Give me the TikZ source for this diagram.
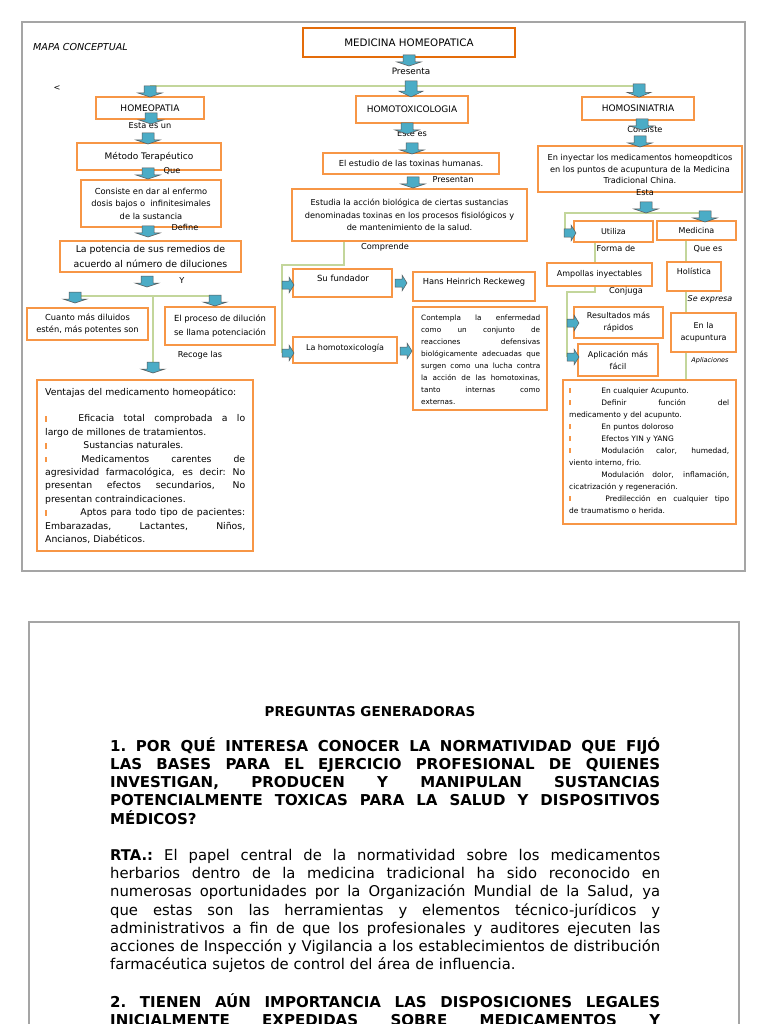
\documentclass[tikz,border=0pt]{standalone}
\usepackage{fontspec}
\setmainfont{DejaVu Sans}
\usetikzlibrary{calc}
\definecolor{bo}{RGB}{247,150,70}
\definecolor{to}{RGB}{228,108,10}
\definecolor{ab}{RGB}{75,172,198}
\definecolor{gl}{RGB}{195,214,155}
\definecolor{fr}{RGB}{165,165,165}
\newcommand\bul{\textcolor{bo}{\rule{2.2pt}{5.5pt}}}
\newcommand\jline[2]{\leavevmode\hbox to #1{\spaceskip=0.3em plus 1fil\relax\xspaceskip=0.3em plus 1fil\relax #2}}
\newcommand\fsz[2]{\fontsize{#1}{#2}\selectfont}
\tikzset{
 box/.style={draw=bo, fill=white, line width=1.1pt, inner sep=0pt, align=center, font=\fsz{8.2}{12}},
 lbl/.style={inner sep=0pt, font=\fsz{8.2}{9}},
 txt/.style={inner sep=0pt, anchor=base west, align=left},
 gline/.style={draw=gl, line width=1.1pt},
 darr/.pic={\filldraw[fill=ab, draw=black!65, line width=0.5pt] (-6,0) -- (6,0) -- (6,7) -- (12,7) -- (0,11) -- (-12,7) -- (-6,7) -- cycle;},
 rarr/.pic={\filldraw[fill=ab, draw=black!65, line width=0.5pt] (0,-4) -- (7,-4) -- (7,-8) -- (12,0) -- (7,8) -- (7,4) -- (0,4) -- cycle;},
}
\begin{document}
\begin{tikzpicture}[x=1pt,y=-1pt]
\useasboundingbox (0,0) rectangle (768,1024);
\fill[white] (0,0) rectangle (768,1024);
% frames
\draw[fr, line width=1.6pt] (22,22) rectangle (745,571);
\draw[fr, line width=1.6pt] (29,1024) -- (29,622) -- (739,622) -- (739,1024);

% ---------- coordinates for connectors
\coordinate (ta) at (150,86); \coordinate (tb) at (640,86);
\coordinate (la) at (75,296); \coordinate (lb) at (215,296);
\coordinate (lc) at (153,296); \coordinate (ld) at (153,362);
\coordinate (ma) at (344,241); \coordinate (mb) at (344,265);
\coordinate (mc) at (282,265); \coordinate (md) at (282,353);
\coordinate (ra) at (705,213); \coordinate (rb) at (565,213); \coordinate (rc) at (565,233);
\coordinate (rd) at (595,242); \coordinate (re) at (595,263);
\coordinate (rf) at (595,286); \coordinate (rg) at (595,292);
\coordinate (rh) at (567,292); \coordinate (ri) at (567,357);
\coordinate (v1) at (686,240); \coordinate (v2) at (686,262);
\coordinate (v3) at (686,291); \coordinate (v4) at (686,313);
\coordinate (v5) at (686,352); \coordinate (v6) at (686,380);

\draw[gline] (ta) -- (tb);
\draw[gline] (la) -- (lb);
\draw[gline] (lc) -- (ld);
\draw[gline] (ma) -- (mb) -- (mc) -- (md);
\draw[gline] (ra) -- (rb) -- (rc);
\draw[gline] (rd) -- (re);
\draw[gline] (rf) -- (rg) -- (rh) -- (ri);
\draw[gline] (v1) -- (v2);
\draw[gline] (v3) -- (v4);
\draw[gline] (v5) -- (v6);

% ---------- title
\node[box, draw=to, line width=2.4pt, minimum width=212pt, minimum height=29pt, font=\fsz{10.3}{12}] (mh) at (409,42.5) {MEDICINA HOMEOPATICA};
\node[lbl, anchor=west, font=\itshape\fsz{9.6}{11}] (mcp) at (33,47) {MAPA CONCEPTUAL};
\node[lbl, font=\fsz{8.8}{10}] (lpres) at (411,71) {Presenta};
\node[lbl] (llt) at (57,88) {<};

% ---------- level 1
\node[box, minimum width=108pt, minimum height=22pt, font=\fsz{9}{10}] (hp) at (150,108) {HOMEOPATIA};
\node[box, minimum width=112pt, minimum height=27pt, font=\fsz{9}{10}] (ht) at (412,109.5) {HOMOTOXICOLOGIA};
\node[box, minimum width=112pt, minimum height=23pt, font=\fsz{9}{10}] (hs) at (638,108.5) {HOMOSINIATRIA};

% ---------- left column
\node[box, minimum width=144pt, minimum height=27pt, font=\fsz{9}{10}] (mt) at (149,156.5) {Método Terapéutico};
\node[box, minimum width=140pt, minimum height=47pt, font=\fsz{8.3}{12.5}] (cs) at (151,203.5) {Consiste en dar al enfermo\\dosis bajos o \ infinitesimales\\de la sustancia};
\node[box, minimum width=181pt, minimum height=31pt, font=\fsz{9.4}{15.5}] (lp) at (150.5,256.5) {La potencia de sus remedios de\\acuerdo al número de diluciones};
\node[box, minimum width=121pt, minimum height=32pt, font=\fsz{8.3}{12}] (cm) at (87.5,324) {Cuanto más diluidos\\estén, más potentes son};
\node[box, minimum width=110pt, minimum height=38pt, font=\fsz{8.4}{13.5}] (ep) at (220,326) {El proceso de dilución\\se llama potenciación};
\node[box, minimum width=216pt, minimum height=171pt] (vt) at (145,465.5) {};
\node[txt, text width=200pt, font=\fsz{9.3}{13.4}] (vtt) at (45,395) {%
Ventajas del medicamento homeopático:\\[13.4pt]
\jline{200pt}{\bul\hspace{31pt}Eficacia total comprobada a lo}\\
largo de millones de tratamientos.\\
\bul\hspace{36pt}Sustancias naturales.\\
\jline{200pt}{\bul\hspace{34pt}Medicamentos carentes de}\\
\jline{200pt}{agresividad farmacológica, es decir: No}\\
\jline{200pt}{presentan efectos secundarios, No}\\
presentan contraindicaciones.\\
\jline{200pt}{\bul\hspace{33pt}Aptos para todo tipo de pacientes:}\\
\jline{200pt}{Embarazadas, Lactantes, Niños,}\\
Ancianos, Diabéticos.};

\node[lbl] (lesta) at (150,126) {Esta es un};
\node[lbl] (lque) at (172,171) {Que};
\node[lbl] (ldef) at (185,227) {Define};
\node[lbl] (ly) at (182,281) {Y};
\node[lbl] (lrec) at (200,355) {Recoge las};

% ---------- middle column
\node[box, minimum width=176pt, minimum height=21pt, font=\fsz{8.3}{10}] (ee) at (411,163.5) {El estudio de las toxinas humanas.};
\node[box, minimum width=235pt, minimum height=52pt, font=\fsz{8.2}{12.5}] (es) at (409.5,215) {Estudia la acción biológica de ciertas sustancias\\denominadas toxinas en los procesos fisiológicos y\\de mantenimiento de la salud.};
\node[box, minimum width=99pt, minimum height=28pt] (sf) at (342.5,283) {};
\node[lbl, font=\fsz{8.5}{10}] (sft) at (343,278) {Su fundador};
\node[box, minimum width=122pt, minimum height=29pt] (hh) at (474,286.5) {};
\node[lbl, font=\fsz{8.3}{10}] (hht) at (474,282) {Hans Heinrich Reckeweg};
\node[box, minimum width=104pt, minimum height=26pt] (lh) at (345,350) {};
\node[lbl, font=\fsz{8}{10}] (lht) at (345,348) {La homotoxicología};
\node[box, minimum width=134pt, minimum height=103pt] (ct) at (480,358.5) {};
\node[txt, text width=119pt, font=\fsz{7.3}{12}] (ctt) at (421,320) {%
\jline{119pt}{Contempla la enfermedad}\\
\jline{119pt}{como un conjunto de}\\
\jline{119pt}{reacciones defensivas}\\
\jline{119pt}{biológicamente adecuadas que}\\
\jline{119pt}{surgen como una lucha contra}\\
\jline{119pt}{la acción de las homotoxinas,}\\
\jline{119pt}{tanto internas como}\\
externas.};

\node[lbl] (leste) at (412,134) {Este es};
\node[lbl] (lpsn) at (453,180) {Presentan};
\node[lbl] (lcom) at (385,247) {Comprende};

% ---------- right column
\node[box, minimum width=204pt, minimum height=46pt, font=\fsz{8.2}{11.7}] (iy) at (640,169) {En inyectar los medicamentos homeopdticos\\en los puntos de acupuntura de la Medicina\\Tradicional China.};
\node[box, minimum width=79pt, minimum height=21pt, font=\fsz{8}{10}] (ut) at (613.5,231.5) {Utiliza};
\node[box, minimum width=79pt, minimum height=19pt, font=\fsz{8}{10}] (mdn) at (696.5,230.5) {Medicina};
\node[box, minimum width=105pt, minimum height=23pt, font=\fsz{8}{10}] (amp) at (599.5,274.5) {Ampollas inyectables};
\node[box, minimum width=54pt, minimum height=29pt] (ho) at (694,276.5) {};
\node[lbl, font=\fsz{8}{10}] (hot) at (694,271) {Holística};
\node[box, minimum width=89pt, minimum height=31pt, font=\fsz{8}{12}] (rr) at (618.5,322.5) {Resultados más\\rápidos};
\node[box, minimum width=65pt, minimum height=39pt, font=\fsz{8}{12}] (ea) at (703.5,332.5) {En la\\acupuntura};
\node[box, minimum width=80pt, minimum height=32pt, font=\fsz{8}{12}] (af) at (618,360) {Aplicación más\\fácil};
\node[box, minimum width=173pt, minimum height=144pt] (br) at (649.5,452) {};
\node[txt, text width=160pt, font=\fsz{7.5}{12}] (brt) at (569,393) {%
\bul\hspace{30pt}En cualquier Acupunto.\\
\jline{160pt}{\bul\hspace{30pt}Definir función del}\\
medicamento y del acupunto.\\
\bul\hspace{30pt}En puntos doloroso\\
\bul\hspace{30pt}Efectos YIN y YANG\\
\jline{160pt}{\bul\hspace{30pt}Modulación calor, humedad,}\\
viento interno, frio.\\
\jline{160pt}{\hspace{32.2pt}Modulación dolor, inflamación,}\\
cicatrización y regeneración.\\
\jline{160pt}{\bul\hspace{34pt}Predilección en cualquier tipo}\\
de traumatismo o herida.};

\node[lbl] (lcon) at (645,129) {Consiste};
\node[lbl] (lest) at (645,193) {Esta};
\node[lbl] (lfor) at (616,248) {Forma de};
\node[lbl] (lqes) at (708,249) {Que es};
\node[lbl] (lcj) at (626,291) {Conjuga};
\node[lbl, font=\itshape\fsz{8}{9}] (lse) at (710,299) {Se expresa};
\node[lbl, font=\itshape\fsz{6.5}{8}] (lapl) at (710,361) {Apliaciones};

% ---------- block arrows
\pic at (409,55) {darr};
\pic at (150,86) {darr};
\pic[yscale=1.45] at (411,81) {darr};
\pic[yscale=1.2] at (639,84) {darr};
\pic at (151,113) {darr};
\pic at (148,133) {darr};
\pic at (148,168) {darr};
\pic at (148,226) {darr};
\pic at (147,276) {darr};
\pic at (75,292) {darr};
\pic at (215,295) {darr};
\pic at (153,362) {darr};
\pic at (407,123) {darr};
\pic at (412,143) {darr};
\pic at (413,177) {darr};
\pic at (642,119) {darr};
\pic at (640,136) {darr};
\pic at (646,202) {darr};
\pic at (705,211) {darr};
\pic at (282,285) {rarr};
\pic at (282,353) {rarr};
\pic at (395,283) {rarr};
\pic at (400,351) {rarr};
\pic at (564,233) {rarr};
\pic at (567,323) {rarr};
\pic at (567,357) {rarr};

% ---------- lower document
\node[inner sep=0pt, anchor=base, font=\bfseries\fsz{13.5}{16}] (pg) at (370,716) {PREGUNTAS GENERADORAS};
\node[txt, text width=550pt, font=\bfseries\fsz{15}{18.3}] (q1) at (110,751) {%
\jline{550pt}{1. POR QUÉ INTERESA CONOCER LA NORMATIVIDAD QUE FIJÓ}\\
\jline{550pt}{LAS BASES PARA EL EJERCICIO PROFESIONAL DE QUIENES}\\
\jline{550pt}{INVESTIGAN, PRODUCEN Y MANIPULAN SUSTANCIAS}\\
\jline{550pt}{POTENCIALMENTE TOXICAS PARA LA SALUD Y DISPOSITIVOS}\\
MÉDICOS?};
\node[txt, text width=550pt, font=\fsz{14.8}{18.33}] (rta) at (110,860) {%
\jline{550pt}{\textbf{RTA.:} El papel central de la normatividad sobre los medicamentos}\\
\jline{550pt}{herbarios dentro de la medicina tradicional ha sido reconocido en}\\
\jline{550pt}{numerosas oportunidades por la Organización Mundial de la Salud, ya}\\
\jline{550pt}{que estas son las herramientas y elementos técnico-jurídicos y}\\
\jline{550pt}{administrativos a fin de que los profesionales y auditores ejecuten las}\\
\jline{550pt}{acciones de Inspección y Vigilancia a los establecimientos de distribución}\\
farmacéutica sujetos de control del área de influencia.};
\node[txt, text width=550pt, font=\bfseries\fsz{15}{18.3}] (q2) at (110,1007) {%
\jline{550pt}{2. TIENEN AÚN IMPORTANCIA LAS DISPOSICIONES LEGALES}\\
\jline{550pt}{INICIALMENTE EXPEDIDAS SOBRE MEDICAMENTOS Y}};
\end{tikzpicture}
\end{document}
